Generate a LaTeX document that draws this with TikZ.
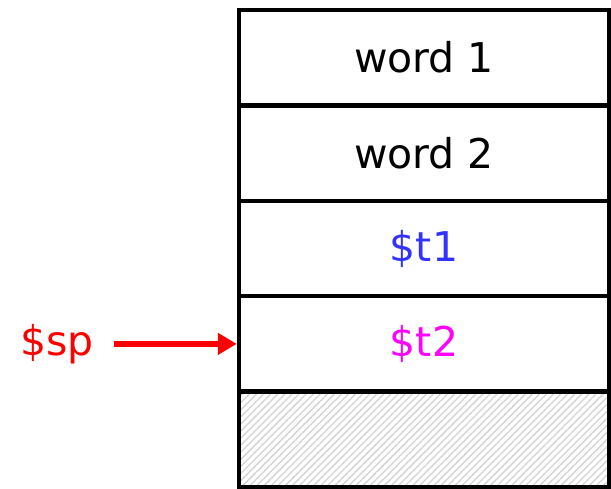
\documentclass[tikz,border=0pt]{standalone}
\usepackage{fontspec}
\setmainfont{DejaVu Sans}
\usetikzlibrary{arrows.meta,patterns.meta}
\definecolor{tblue}{RGB}{51,51,255}
\definecolor{tmag}{RGB}{255,0,255}
\definecolor{spred}{RGB}{255,0,0}
\begin{document}
\begin{tikzpicture}[x=1pt,y=-1pt,
  cell/.style={draw=black, line width=4.5pt, minimum width=370pt, minimum height=95.4pt, inner sep=0pt,
    font=\fontsize{41}{48}\selectfont},
  hatch/.style={cell, pattern={Lines[angle=45,distance=5pt,line width=1.3pt]}, pattern color=gray!35},
  lbl/.style={font=\fontsize{41}{48}\selectfont, inner sep=0pt},
  ptr/.style={draw=spred, line width=5.5pt, -{Triangle[length=19pt,width=21pt]}}]
\useasboundingbox (0,0) rectangle (611,488);
\node[cell] (w1) at (424,57.7) {word 1};
\node[cell] (w2) at (424,153.1) {word 2};
\node[cell, text=tblue] (t1) at (424,248.5) {\$t1};
\node[cell, text=tmag] (t2) at (424,343.9) {\$t2};
\node[hatch] (free) at (424,439.3) {};
\node[lbl, text=spred] (sp) at (57,343.9) {\$sp};
\draw[ptr, shorten <=20pt] (sp.east) -- (t2.west);
\end{tikzpicture}
\end{document}
